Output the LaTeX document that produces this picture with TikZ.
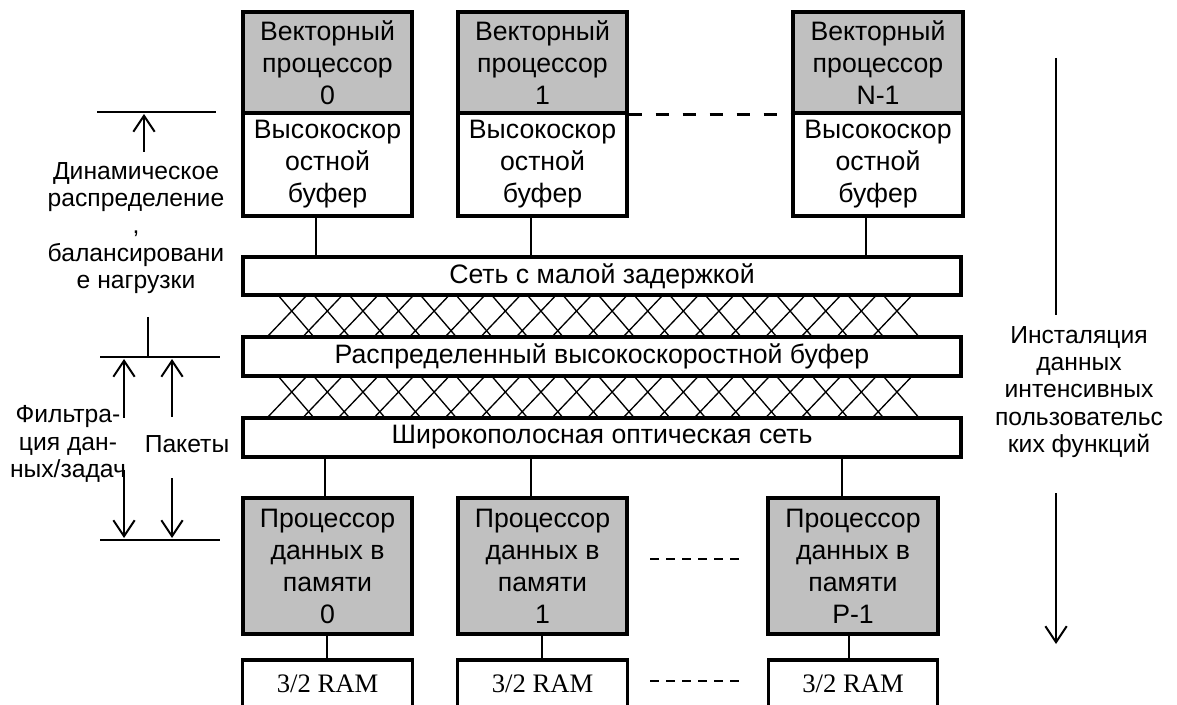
\documentclass[tikz,border=0pt]{standalone}
\usepackage{fontspec}
\setmainfont{Liberation Sans}
\newfontfamily\ramfont{Liberation Serif}
\usetikzlibrary{arrows.meta,calc}
\definecolor{boxgray}{RGB}{192,192,192}
\begin{document}
\begin{tikzpicture}[x=0.75pt,y=-0.75pt,
  box/.style={draw=black, line width=2.4pt, align=center, inner sep=0pt,
              font=\fontsize{20}{24}\selectfont},
  gbox/.style={box, fill=boxgray},
  wbox/.style={box, fill=white},
  ram/.style={wbox, font=\ramfont\fontsize{20}{24}\selectfont,
              minimum width=127pt, minimum height=35.25pt},
  conn/.style={line width=1pt},
  hatch/.style={line width=1pt},
  side/.style={align=center, inner sep=0pt, font=\fontsize{18.5}{20.5}\selectfont},
  markline/.style={line width=1.5pt},
  arr/.style={line width=1.5pt, -{Straight Barb[length=12pt,width=16pt]}},
  dots/.style={line width=1.1pt, dash pattern=on 6.75pt off 5.25pt},
]
\useasboundingbox (0,0) rectangle (1177,705);

% hatching between the network layers
\foreach \k in {0,...,17} {
  \draw[hatch] (278+35.6*\k,295) -- (314+35.6*\k,337);
  \draw[hatch] (307+35.6*\k,295) -- (267+35.6*\k,337);
  \draw[hatch] (278+35.6*\k,376) -- (314+35.6*\k,418);
  \draw[hatch] (307+35.6*\k,376) -- (267+35.6*\k,418);
}

% vector processors and their buffers
\node[gbox, minimum width=126.75pt, minimum height=75.75pt] (vp0) at (327.5,62.5) {Векторный\\процессор\\0};
\node[wbox, minimum width=126.75pt, minimum height=77.25pt] (vb0) at (327.5,164.5) {Высокоскор\\остной\\буфер};
\node[gbox, minimum width=126.75pt, minimum height=75.75pt] (vp1) at (542.5,62.5) {Векторный\\процессор\\1};
\node[wbox, minimum width=126.75pt, minimum height=77.25pt] (vb1) at (542.5,164.5) {Высокоскор\\остной\\буфер};
\node[gbox, minimum width=127.5pt, minimum height=75.75pt] (vpN) at (878,62.5) {Векторный\\процессор\\N-1};
\node[wbox, minimum width=127.5pt, minimum height=77.25pt] (vbN) at (878,164.5) {Высокоскор\\остной\\буфер};

\draw[line width=2.5pt, dash pattern=on 9.75pt off 10.5pt] (vp1.south east) -- (vpN.south west);

% network layers
\node[wbox, minimum width=538.5pt, minimum height=28.5pt] (net1) at (602,276) {Сеть с малой задержкой};
\node[wbox, minimum width=538.5pt, minimum height=29.25pt] (net2) at (602,356.5) {Распределенный высокоскоростной буфер};
\node[wbox, minimum width=538.5pt, minimum height=29.25pt] (net3) at (602,437.5) {Широкополосная оптическая сеть};

% connectors buffers -> network
\draw[conn] ([xshift=-8.6pt]vb0.south) -- ([xshift=-8.6pt]vb0.south |- net1.north);
\draw[conn] ([xshift=-8.6pt]vb1.south) -- ([xshift=-8.6pt]vb1.south |- net1.north);
\draw[conn] ([xshift=-9pt]vbN.south) -- ([xshift=-9pt]vbN.south |- net1.north);

% data processors
\node[gbox, minimum width=126.75pt, minimum height=102pt] (pd0) at (327.5,566) {Процессор\\данных в\\памяти\\0};
\node[gbox, minimum width=126.75pt, minimum height=102pt] (pd1) at (542.5,566) {Процессор\\данных в\\памяти\\1};
\node[gbox, minimum width=127.5pt, minimum height=102pt] (pdP) at (853,566) {Процессор\\данных в\\памяти\\P-1};

\draw[conn] ([xshift=-1.9pt]pd0.north) -- ([xshift=-1.9pt]pd0.north |- net3.south);
\draw[conn] ([xshift=-8.6pt]pd1.north) -- ([xshift=-8.6pt]pd1.north |- net3.south);
\draw[conn] ([xshift=-8.25pt]pdP.north) -- ([xshift=-8.25pt]pdP.north |- net3.south);

% RAM blocks
\node[ram] (ram0) at (327.5,683.5) {3/2 RAM};
\node[ram] (ram1) at (542.5,683.5) {3/2 RAM};
\node[ram] (ramP) at (853,683.5) {3/2 RAM};

\draw[conn] ([xshift=-0.4pt]pd0.south) -- ([xshift=-0.4pt]ram0.north);
\draw[conn] ([xshift=-0.4pt]pd1.south) -- ([xshift=-0.4pt]ram1.north);
\draw[conn] ([xshift=-3pt]pdP.south) -- ([xshift=-3pt]ramP.north);

\coordinate (d1a) at (650,559); \coordinate (d1b) at (745,559);
\coordinate (d2a) at (650,681); \coordinate (d2b) at (745,681);
\draw[dots] (d1a) -- (d1b);
\draw[dots] (d2a) -- (d2b);

% left annotations
\draw[markline] (97,112) -- (216,112);
\draw[arr] (144,152) -- (144,114);
\node[side] (lab1) at (136,228) {Динамическое\\распределение\\,\\балансировани\\е нагрузки};

\draw[markline] (148,317) -- (148,357);
\draw[markline] (100,357) -- (220,357);
\draw[arr] (124,418) -- (124,359);
\draw[arr] (172,417) -- (172,359);
\node[side] (lab2) at (68,444) {Фильтра-\\ция дан-\\ных/задач};
\node[side] (lab3) at (187,444) {Пакеты};
\draw[arr] (124,470) -- (124,538);
\draw[arr] (172,478) -- (172,538);
\draw[markline] (100,540) -- (220,540);

% right annotation
\draw[markline] (1056,58) -- (1056,315);
\draw[arr] (1056,493) -- (1056,644);
\node[side] (lab4) at (1079,392) {Инсталяция\\данных\\интенсивных\\пользовательс\\ких функций};
\end{tikzpicture}
\end{document}
